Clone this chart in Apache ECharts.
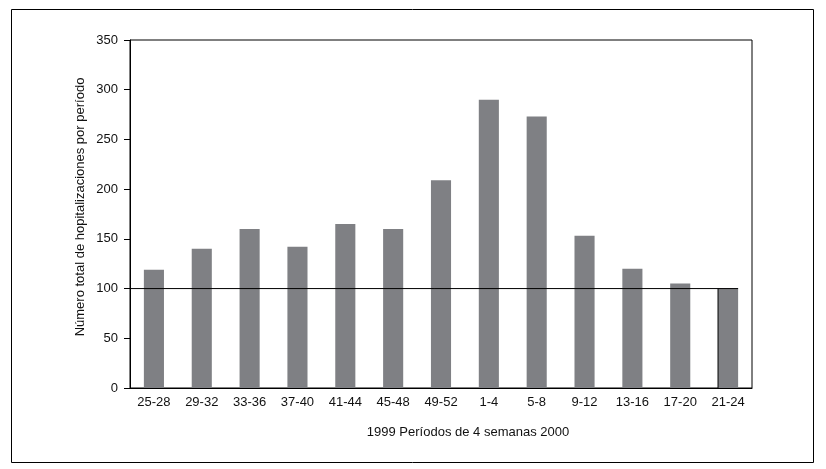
<!DOCTYPE html>
<html>
<head>
<meta charset="utf-8">
<script src="https://cdn.jsdelivr.net/npm/echarts@6/dist/echarts.min.js"></script>
<style>
html,body{margin:0;padding:0;background:#fff;}
#c{width:826px;height:469px;}
</style>
</head>
<body>
<div id="c"></div>
<script>
const categories = ['25-28','29-32','33-36','37-40','41-44','45-48','49-52','1-4','5-8','9-12','13-16','17-20','21-24'];
const hospitalizations = [119, 140, 160, 142, 165, 160, 209, 290, 273, 153, 120, 105, 100];
const yTicks = [0, 50, 100, 150, 200, 250, 300, 350];
const refLevel = 100;
const yTitle = 'Número total de hopitalizaciones por período';
const xTitle = '1999 Períodos de 4 semanas 2000';

const barFrac = 0.42; // bar width as fraction of band
const lastIdx = categories.length - 1;
const refData = [[-0.5, refLevel], [lastIdx + barFrac / 2, refLevel], '-', [lastIdx - barFrac / 2, refLevel], [lastIdx - barFrac / 2, 0]];

const chart = echarts.init(document.getElementById('c'), null, {renderer: 'canvas'});
const font = 'Liberation Sans, Arial, Helvetica, sans-serif';
chart.setOption({
  animation: false,
  backgroundColor: '#fff',
  grid: {left: 130, right: 74, top: 40, bottom: 81, show: true, borderColor: '#000', borderWidth: 1, containLabel: false},
  xAxis: [{
    type: 'category', data: categories,
    axisLine: {onZero: false, lineStyle: {color: '#000', width: 1}},
    axisTick: {show: false},
    axisLabel: {color: '#111', fontFamily: font, fontSize: 13, margin: 8, interval: 0}
  }, {
    type: 'value', min: -0.5, max: lastIdx + 0.5, show: false
  }],
  yAxis: {
    type: 'value', min: yTicks[0], max: yTicks[yTicks.length - 1], interval: 50,
    axisLine: {show: true, onZero: false, lineStyle: {color: '#000', width: 1}},
    axisTick: {show: true, length: 6, lineStyle: {color: '#000'}},
    axisLabel: {color: '#111', fontFamily: font, fontSize: 13, margin: 12},
    splitLine: {show: false}
  },
  graphic: [
    {type: 'rect', shape: {x: 11.5, y: 9.5, width: 802, height: 453}, style: {fill: 'none', stroke: '#000', lineWidth: 1}, silent: true, z: -1},
    {type: 'text', x: 80, y: 207, rotation: Math.PI / 2, style: {text: yTitle, font: '13px ' + font, fill: '#111', textAlign: 'center', textVerticalAlign: 'middle'}},
    {type: 'text', x: 468, y: 432, style: {text: xTitle, font: '13px ' + font, fill: '#111', textAlign: 'center', textVerticalAlign: 'middle'}}
  ],
  series: [{
    type: 'bar', data: hospitalizations, barWidth: (barFrac * 100) + '%',
    itemStyle: {color: '#7f8084'}, z: 2
  }, {
    type: 'line', xAxisIndex: 1, data: refData, symbol: 'none', connectNulls: false,
    lineStyle: {color: '#000', width: 1}, z: 3, silent: true
  }]
});
</script>
</body>
</html>
